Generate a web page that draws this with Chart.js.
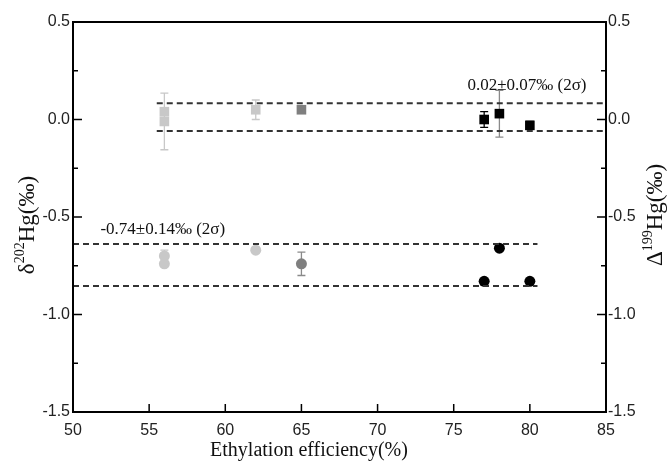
<!DOCTYPE html>
<html>
<head>
<meta charset="utf-8">
<script src="https://cdn.jsdelivr.net/npm/chart.js@4.4.0/dist/chart.umd.min.js"></script>
<style>
  html, body { margin: 0; padding: 0; background: #fff; }
  #wrap { width: 670px; height: 462px; position: relative; }
</style>
</head>
<body>
<div id="wrap"><canvas id="chart" width="670" height="462"></canvas></div>
<script>
// ethylation efficiency (%) for each measurement
const efficiency = [56, 56, 62, 65, 77, 78, 80];
// Δ199Hg (‰), squares, right axis
const delta199 = [0.04, -0.01, 0.05, 0.05, 0.00, 0.03, -0.03];
const delta199Err = [0, 0.145, 0.05, 0, 0.04, 0.12, 0.02];
// δ202Hg (‰), circles, left axis
const delta202 = [-0.70, -0.74, -0.67, -0.74, -0.83, -0.66, -0.83];
const delta202Err = [0.03, 0, 0, 0.06, 0, 0, 0];
// marker shade of each point
const pointColors = ['#c8c8c8', '#c8c8c8', '#c8c8c8', '#7f7f7f', '#000000', '#000000', '#000000'];
const errColors = ['#c8c8c8', '#c8c8c8', '#c8c8c8', '#8a8a8a', '#000000', '#8a8a8a', '#000000'];

// 2σ bands (dashed lines)
const band199X = [55.5, 85];
const band199 = [0.083, -0.059];
const band202X = [50, 80.5];
const band202 = [-0.638, -0.854];

// annotation texts and where they sit (data units)
const labels = [
  { text: '0.02±0.07‰ (2σ)', x: 75.9, y: 0.175, axis: 'y2' },
  { text: '-0.74±0.14‰ (2σ)', x: 51.8, y: -0.565, axis: 'y' }
];

const xTickValues = [50, 55, 60, 65, 70, 75, 80, 85];
const yMin = -1.5, yMax = 0.5;

const pts = (xs, ys) => xs.map((x, i) => ({ x: x, y: ys[i] }));

const bandData = (xs, v) => [{ x: xs[0], y: v }, { x: xs[1], y: v }];

const dashed = {
  showLine: true,
  pointRadius: 0,
  borderColor: '#333',
  borderWidth: 2,
  borderDash: [6, 4],
  fill: false
};

// error bars, drawn under the markers
const errorBars = {
  id: 'errorBars',
  beforeDatasetsDraw(chart) {
    const { ctx, scales } = chart;
    ctx.save();
    ctx.lineWidth = 1.3;
    const draw = (ys, errs, yScale) => {
      ys.forEach((v, i) => {
        if (!errs[i]) return;
        const px = scales.x.getPixelForValue(efficiency[i]);
        const top = yScale.getPixelForValue(v + errs[i]);
        const bot = yScale.getPixelForValue(v - errs[i]);
        ctx.strokeStyle = errColors[i];
        ctx.beginPath();
        ctx.moveTo(px, top); ctx.lineTo(px, bot);
        ctx.moveTo(px - 4, top); ctx.lineTo(px + 4, top);
        ctx.moveTo(px - 4, bot); ctx.lineTo(px + 4, bot);
        ctx.stroke();
      });
    };
    draw(delta199, delta199Err, scales.y2);
    draw(delta202, delta202Err, scales.y);
    ctx.restore();
  }
};

// frame, inward ticks, titles and notes
const decorations = {
  id: 'decorations',
  afterDraw(chart) {
    const { ctx, chartArea: a, scales } = chart;
    ctx.save();
    ctx.strokeStyle = '#000';
    ctx.lineWidth = 2;
    ctx.strokeRect(a.left, a.top, a.right - a.left, a.bottom - a.top);

    ctx.lineWidth = 1.5;
    ctx.beginPath();
    xTickValues.forEach(v => {
      const px = scales.x.getPixelForValue(v);
      ctx.moveTo(px, a.bottom);
      ctx.lineTo(px, a.bottom - 8);
    });
    for (let v = yMin; v <= yMax + 1e-9; v += 0.25) {
      const major = Math.abs(v * 2 - Math.round(v * 2)) < 1e-6;
      const len = major ? 9 : 5;
      const pl = scales.y.getPixelForValue(v);
      const pr = scales.y2.getPixelForValue(v);
      ctx.moveTo(a.left, pl); ctx.lineTo(a.left + len, pl);
      ctx.moveTo(a.right, pr); ctx.lineTo(a.right - len, pr);
    }
    ctx.stroke();

    // notes
    ctx.fillStyle = '#111';
    ctx.font = '17px "Liberation Serif", "Times New Roman", serif';
    ctx.textBaseline = 'middle';
    ctx.textAlign = 'left';
    labels.forEach(l => {
      ctx.fillText(l.text, scales.x.getPixelForValue(l.x), scales[l.axis].getPixelForValue(l.y));
    });

    // axis titles
    const big = '23px "Liberation Serif", "Times New Roman", serif';
    const small = '14px "Liberation Serif", "Times New Roman", serif';
    const supTitle = (cx, cy, pre, sup, post) => {
      ctx.save();
      ctx.translate(cx, cy);
      ctx.rotate(-Math.PI / 2);
      ctx.font = big; const w1 = ctx.measureText(pre).width; const w3 = ctx.measureText(post).width;
      ctx.font = small; const w2 = ctx.measureText(sup).width;
      let x = -(w1 + w2 + w3) / 2;
      ctx.textAlign = 'left';
      ctx.textBaseline = 'alphabetic';
      ctx.font = big; ctx.fillText(pre, x, 8); x += w1;
      ctx.font = small; ctx.fillText(sup, x, -2); x += w2;
      ctx.font = big; ctx.fillText(post, x, 8);
      ctx.restore();
    };
    supTitle(26, 225, 'δ', '202', 'Hg(‰)');
    supTitle(654, 215, 'Δ', '199', 'Hg(‰)');

    ctx.font = '20px "Liberation Serif", "Times New Roman", serif';
    ctx.textAlign = 'center';
    ctx.textBaseline = 'middle';
    ctx.fillText('Ethylation efficiency(%)', 309, 451);
    ctx.restore();
  }
};

const tickFont = { family: '"Liberation Sans", Arial, sans-serif', size: 16 };

new Chart(document.getElementById('chart'), {
  type: 'scatter',
  data: {
    datasets: [
      Object.assign({ label: 'band199 hi', data: bandData(band199X, band199[0]), yAxisID: 'y2' }, dashed),
      Object.assign({ label: 'band199 lo', data: bandData(band199X, band199[1]), yAxisID: 'y2' }, dashed),
      Object.assign({ label: 'band202 hi', data: bandData(band202X, band202[0]), yAxisID: 'y' }, dashed),
      Object.assign({ label: 'band202 lo', data: bandData(band202X, band202[1]), yAxisID: 'y' }, dashed),
      {
        label: 'Δ199Hg',
        data: pts(efficiency, delta199),
        yAxisID: 'y2',
        pointStyle: 'rect',
        pointRadius: 6.8,
        pointBackgroundColor: pointColors,
        pointBorderColor: pointColors,
        pointBorderWidth: 0
      },
      {
        label: 'δ202Hg',
        data: pts(efficiency, delta202),
        yAxisID: 'y',
        pointStyle: 'circle',
        pointRadius: 5.5,
        pointBackgroundColor: pointColors,
        pointBorderColor: pointColors,
        pointBorderWidth: 0
      }
    ]
  },
  options: {
    responsive: false,
    animation: false,
    layout: { padding: { top: 22, left: 0, right: 0, bottom: 0 } },
    plugins: {
      legend: { display: false },
      tooltip: { enabled: false }
    },
    scales: {
      x: {
        type: 'linear',
        min: 50,
        max: 85,
        grid: { display: false, drawTicks: false },
        border: { display: false },
        afterBuildTicks: s => { s.ticks = xTickValues.map(v => ({ value: v })); },
        afterFit: s => { s.height = 50; },
        ticks: { font: tickFont, color: '#222', padding: 9, maxRotation: 0 }
      },
      y: {
        type: 'linear',
        position: 'left',
        min: yMin,
        max: yMax,
        grid: { display: false, drawTicks: false },
        border: { display: false },
        afterFit: s => { s.width = 73; },
        ticks: { stepSize: 0.5, font: tickFont, color: '#222', padding: 3, callback: v => v.toFixed(1) }
      },
      y2: {
        type: 'linear',
        position: 'right',
        min: yMin,
        max: yMax,
        grid: { display: false, drawTicks: false },
        border: { display: false },
        afterFit: s => { s.width = 64; },
        ticks: { stepSize: 0.5, font: tickFont, color: '#222', padding: 2, callback: v => v.toFixed(1) }
      }
    }
  },
  plugins: [errorBars, decorations]
});
</script>
</body>
</html>
